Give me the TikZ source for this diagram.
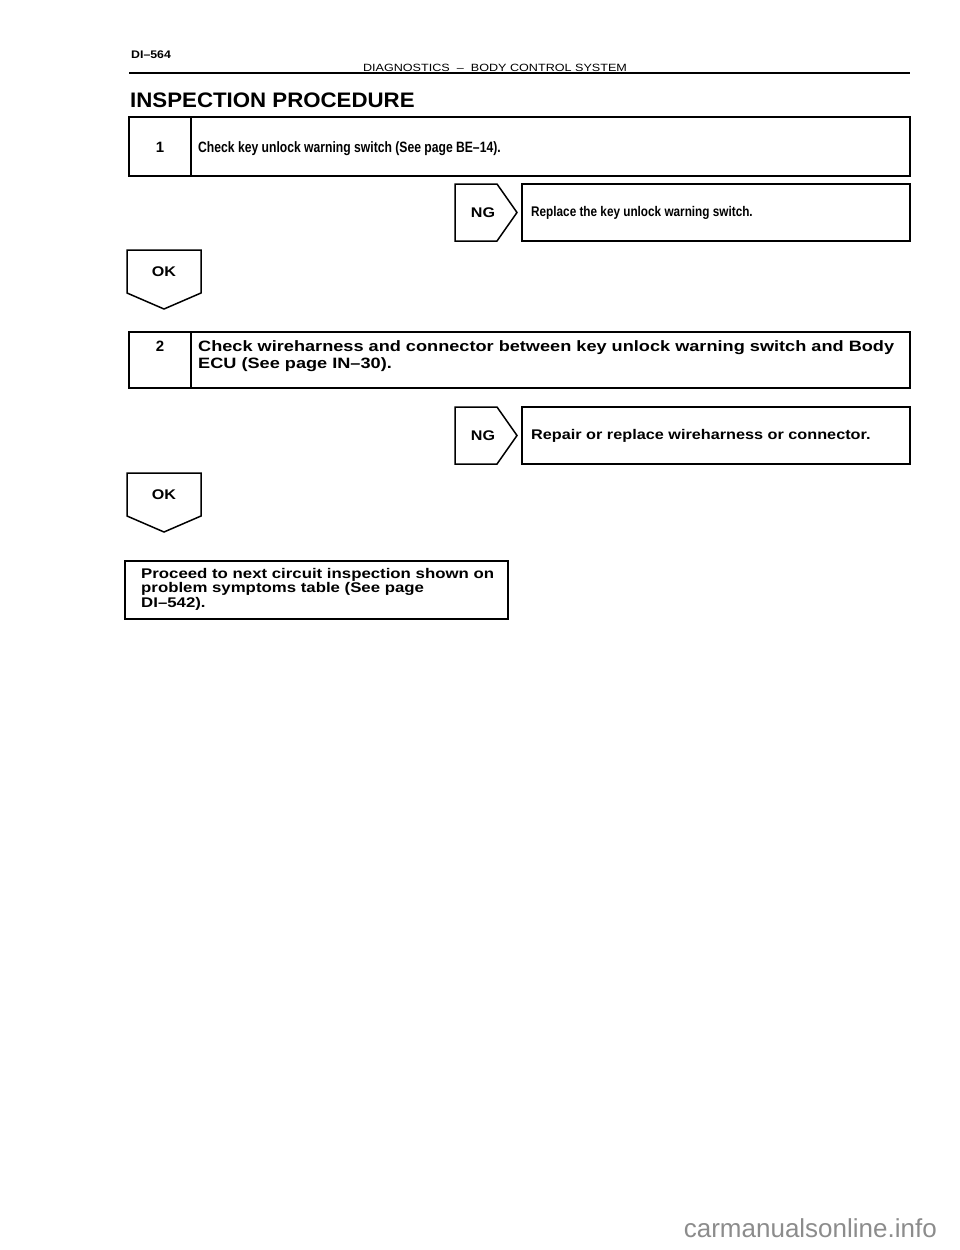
\documentclass[tikz,border=0pt]{standalone}
\usepackage{fontspec}
\setmainfont{Liberation Sans}
\newfontfamily\markfont{Liberation Sans}
\usetikzlibrary{positioning}

\newcommand{\wide}[1]{\addfontfeatures{FakeStretch=#1}}

\tikzset{
  boxline/.style={line width=1.5pt},
  boldtext/.style={inner sep=0pt, align=left, font=\fontsize{#1}{#1}\selectfont\bfseries},
  labeltext/.style={inner sep=0pt, font=\fontsize{14}{16}\selectfont\bfseries\wide{1.15}},
}

\begin{document}
\begin{tikzpicture}[x=1pt,y=-1pt]
        \useasboundingbox (0,0) rectangle (960,1250);
        % page head
        \node[anchor=west, inner sep=0pt, font=\fontsize{11}{13}\selectfont\bfseries\wide{1.12}] (page) at (131,55) {DI--564};
        \draw[line width=1.3pt] (129,73) -- (910,73);
        \node[anchor=south, inner sep=1pt, font=\fontsize{10.5}{12}\selectfont\wide{1.2}] (head) at (495,73) {DIAGNOSTICS \ -- \ BODY CONTROL SYSTEM};
        \node[anchor=west, inner sep=0pt, font=\fontsize{21}{24}\selectfont\bfseries\wide{1.06}] (title) at (130,100) {INSPECTION PROCEDURE};

        \foreach \n/\y/\h/\b/\t/\g/\sa/\sb/\chk/\fix in {
                1/117/59/152/141/184/0.81/0.84/{Check key unlock warning switch (See page BE--14).}/{Replace the key unlock warning switch.},
                2/332/56/351/340/407/1.21/1.16/{Check wireharness and connector between key unlock warning switch and Body\\ECU (See page IN--30).}/{Repair or replace wireharness or connector.}} {
            % check box
            \draw[boxline] (129,\y) rectangle (910,\y+\h);
            \draw[boxline] (191,\y) -- (191,\y+\h);
            \node[boldtext=15, anchor=base] (num\n) at (160,\b) {\n};
            \node[boldtext=15, anchor=north west, font=\fontsize{15}{17}\selectfont\bfseries\wide{\sa}] (chk\n) at (198,\t) {\chk};
            % NG branch
            \draw[boxline] (455,\g) -- (497,\g) -- (517,\g+28.5) -- (497,\g+57) -- (455,\g+57) -- cycle;
            \node[labeltext] (ng\n) at (483,\g+28.5) {NG};
            \draw[boxline] (522,\g) rectangle (910,\g+57);
            \node[labeltext, anchor=west, font=\fontsize{14}{16}\selectfont\bfseries\wide{\sb}] (fix\n) at (531,\g+28.5) {\fix};
            % OK branch
            \draw[boxline] (127,\g+66) -- (201,\g+66) -- (201,\g+109) -- (164,\g+125) -- (127,\g+109) -- cycle;
            \node[labeltext] (ok\n) at (164,\g+88) {OK};
        }

        % last step
        \draw[boxline] (125,561) rectangle (508,619);
        \node[boldtext=14, anchor=north west, font=\fontsize{14}{14.5}\selectfont\bfseries\wide{1.2}] (next) at (141,568)
            {Proceed to next circuit inspection shown on\\problem symptoms table (See page\\DI--542).};

        \node[anchor=east, inner sep=0pt, text=black!45, font=\markfont\fontsize{26}{30}\selectfont] (mark) at (937,1228) {carmanualsonline.info};
    \end{tikzpicture}
\end{document}
